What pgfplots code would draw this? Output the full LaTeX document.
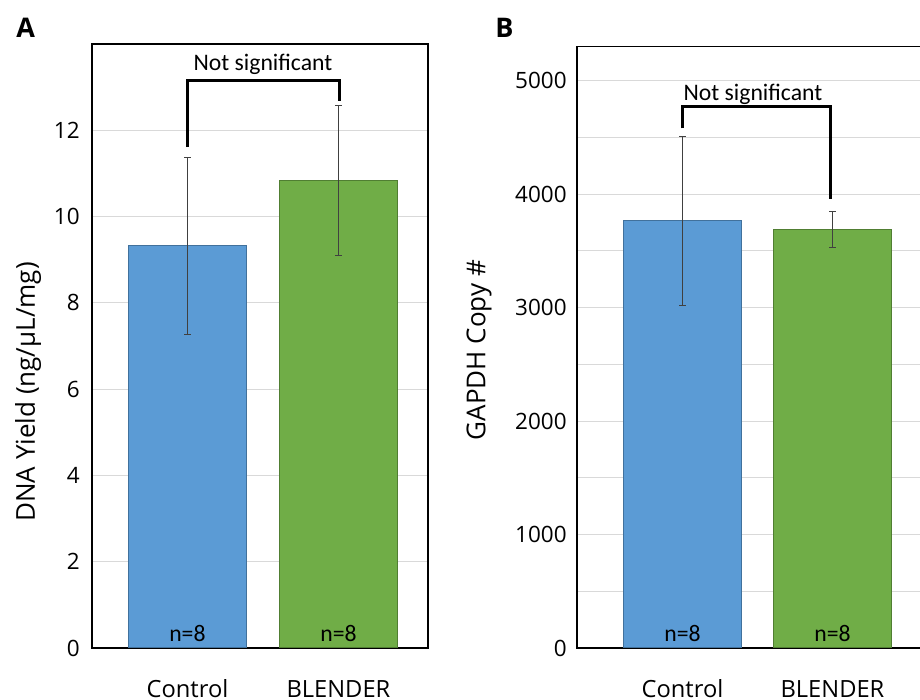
\documentclass[border=0pt]{standalone}
\usepackage{pgfplots}
\pgfplotsset{compat=1.18}
\usepackage{fontspec}
\setmainfont{Open Sans}
\newfontfamily\calib{Carlito}
\definecolor{cblue}{HTML}{5B9BD5}
\definecolor{cblueE}{HTML}{41719C}
\definecolor{cgreen}{HTML}{70AD47}
\definecolor{cgreenE}{HTML}{507E32}
\definecolor{cgrid}{HTML}{D9D9D9}
\tikzset{
  ann/.style={font=\calib\fontsize{11.85}{14}\selectfont},
  xl/.style={anchor=base, yshift=-24.5pt, font=\fontsize{11.85}{14}\selectfont},
}
\pgfplotsset{
  myax/.style={
    scale only axis,
    clip=false,
    axis line style={black, line width=0.7pt},
    major tick length=0pt, minor tick length=0pt,
    xtick=\empty,
    ymin=0,
    ymajorgrids,
    grid style={cgrid, line width=0.5pt},
    /pgf/number format/assume math mode=true,
    /pgf/number format/1000 sep={},
    tick label style={font=\fontsize{11.25}{13}\selectfont},
    axis on top=false,
  },
  errstyle/.style={error bars/.cd, y dir=both, y explicit,
    error bar style={line width=0.4pt, black!75},
    error mark options={line width=0.4pt, black!75, mark size=1.6pt, rotate=90}},
}
\begin{document}
\fontsize{11.85}{14}\selectfont
\begin{tikzpicture}
\useasboundingbox (0,0) rectangle (460pt,350pt);
\clip (0,0) rectangle (460pt,350pt);
% Panel A
\begin{axis}[myax,
  at={(46pt,26pt)}, anchor=south west,
  width=168pt, height=302pt,
  xmin=-0.632, xmax=1.593,
  ymax=14, ytick={0,2,...,12},
  yticklabel style={xshift=-2pt},
]
\addplot[ybar, bar width=59pt, bar shift=0pt, fill=cblue, draw=cblueE, line width=0.5pt, errstyle]
  coordinates {(0,9.32) +- (0,2.045)};
\addplot[ybar, bar width=59pt, bar shift=0pt, fill=cgreen, draw=cgreenE, line width=0.5pt, errstyle]
  coordinates {(1,10.84) +- (0,1.73)};
\draw[line width=1.5pt] (axis cs:0,11.61) -- (axis cs:0,13.15) -- (axis cs:1.01,13.15) -- (axis cs:1.01,12.68);
\node[anchor=base, ann] at (axis cs:0.5,13.38) {Not significant};
\node[anchor=base, ann] at (axis cs:0,0.14) {n=8};
\node[anchor=base, ann] at (axis cs:1,0.14) {n=8};
\node[xl] at (axis cs:0,0) {Control};
\node[xl] at (axis cs:1,0) {BLENDER};
\end{axis}
% Panel B
\begin{axis}[myax,
  at={(288.5pt,26pt)}, anchor=south west,
  width=174pt, height=300.65pt,
  xmin=-0.703, xmax=1.617,
  ymax=5300, ytick={0,1000,...,5000},
  minor ytick={500,1500,...,4500},
  yminorgrids,
  minor grid style={cgrid, line width=0.5pt},
  yticklabel style={xshift=-1pt},
]
\addplot[ybar, bar width=59pt, bar shift=0pt, fill=cblue, draw=cblueE, line width=0.5pt, errstyle]
  coordinates {(0,3765) +- (0,748)};
\addplot[ybar, bar width=59pt, bar shift=0pt, fill=cgreen, draw=cgreenE, line width=0.5pt, errstyle]
  coordinates {(1,3690) +- (0,157)};
\draw[line width=1.5pt] (axis cs:0,4579) -- (axis cs:0,4770) -- (axis cs:0.99,4770) -- (axis cs:0.99,3956);
\node[anchor=base, ann] at (axis cs:0.47,4828) {Not significant};
\node[anchor=base, ann] at (axis cs:0,53) {n=8};
\node[anchor=base, ann] at (axis cs:1,53) {n=8};
\node[xl] at (axis cs:0,0) {Control};
\node[xl] at (axis cs:1,0) {BLENDER};
\end{axis}
% axis titles and panel letters
\node[rotate=90, font=\fontsize{13}{15}\selectfont] at (14pt,154pt) {DNA Yield (ng/µL/mg)};
\node[rotate=90, font=\fontsize{13}{15}\selectfont] at (239.5pt,175pt) {GAPDH Copy \#};
\node[anchor=base west, inner sep=0pt, font=\fontsize{13.5}{16}\selectfont\bfseries] at (8pt,331pt) {A};
\node[anchor=base west, inner sep=0pt, font=\fontsize{13.5}{16}\selectfont\bfseries] at (247.5pt,331pt) {B};
\end{tikzpicture}
\end{document}
